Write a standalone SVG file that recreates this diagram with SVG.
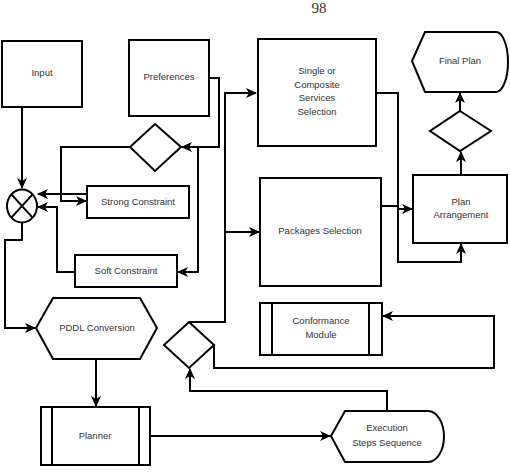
<svg xmlns="http://www.w3.org/2000/svg" width="510" height="473" viewBox="0 0 510 473">
<defs>
<marker id="arr" markerUnits="userSpaceOnUse" markerWidth="12" markerHeight="10" refX="10" refY="5" orient="auto">
<path d="M0,0 L11,5 L0,10 L3,5 Z" fill="#000"/>
</marker>
</defs>
<style>
.s{fill:#fff;stroke:#000;stroke-width:2}
.l{fill:none;stroke:#000;stroke-width:2}
.c{fill:none;stroke:#000;stroke-width:2;marker-end:url(#arr)}
.t{font-family:"Liberation Sans",Arial,sans-serif;font-size:9.5px;fill:#333;text-anchor:middle;dominant-baseline:middle}
</style>
<rect width="510" height="473" fill="#fff"/>
<text x="319" y="13" font-family="'Liberation Serif',serif" font-size="15" text-anchor="middle" fill="#333">98</text>
<g id="connectors">
<path class="c" d="M22,107 V188"/>
<path class="c" d="M209,78 H219 V147 H182"/>
<path class="c" d="M219,147 H198 V272 H178"/>
<path class="c" d="M130,147 H61 V201 H86"/>
<path class="c" d="M87,194 H38"/>
<path class="c" d="M75,272 H57 V207 H38"/>
<path class="c" d="M22,222 V240 H5 V328 H35"/>
<path class="c" d="M96,359 V406"/>
<path class="c" d="M150,436 H330"/>
<path class="c" d="M189,322 H225 V93 H256"/>
<path class="c" d="M225,232 H259"/>
<path class="c" d="M214,345 V368 H494 V316 H383"/>
<path class="c" d="M387,411 V391 H190 V369"/>
<path class="c" d="M376,93 H398 V262 H461 V244"/>
<path class="c" d="M381,206 H398 V209 H412"/>
<path class="c" d="M461,175 V152"/>
<path class="c" d="M460,111 V93"/>
</g>
<g id="input"><rect class="s" x="2" y="41" width="80" height="66"/><text class="t" x="42" y="73">Input</text></g>
<g id="preferences"><rect class="s" x="129" y="40" width="80" height="76"/><text class="t" x="169" y="77">Preferences</text></g>
<g id="diamond1"><path class="s" d="M155,124 L181,147 L155,171 L130,147 Z"/></g>
<g id="merge"><ellipse class="s" cx="22" cy="206" rx="15" ry="16.5"/><path class="l" d="M11.4,194.3 L32.6,217.7 M32.6,194.3 L11.4,217.7"/></g>
<g id="strong"><rect class="s" x="87" y="186" width="102" height="32"/><text class="t" x="138" y="202">Strong Constraint</text></g>
<g id="soft"><rect class="s" x="75" y="255" width="102" height="32"/><text class="t" x="126" y="271">Soft Constraint</text></g>
<g id="pddl"><path class="s" d="M36,328 L53,298 H140 L157,328 L140,359 H53 Z"/><text class="t" x="97" y="328">PDDL Conversion</text></g>
<g id="planner"><rect class="s" x="41" y="407" width="109" height="58"/><path class="l" d="M52,407 V465 M139,407 V465"/><text class="t" x="95" y="436">Planner</text></g>
<g id="diamond2"><path class="s" d="M189,322 L214,345 L189,368 L164,345 Z"/></g>
<g id="single"><rect class="s" x="258" y="39" width="118" height="107"/><text class="t" x="317" y="71">Single or</text><text class="t" x="317" y="85">Composite</text><text class="t" x="317" y="98">Services</text><text class="t" x="317" y="112">Selection</text></g>
<g id="packages"><rect class="s" x="260" y="178" width="121" height="108"/><text class="t" x="320" y="231">Packages Selection</text></g>
<g id="conformance"><rect class="s" x="260" y="303" width="122" height="52"/><path class="l" d="M272,303 V355 M369,303 V355"/><text class="t" x="321" y="321">Conformance</text><text class="t" x="321" y="335">Module</text></g>
<g id="execution"><path class="s" d="M331,436 L345,411 H428 A16,25.5 0 0 1 428,462 H345 Z"/><text class="t" x="387" y="428">Execution</text><text class="t" x="387" y="443">Steps Sequence</text></g>
<g id="plan-arrangement"><rect class="s" x="413" y="175" width="94" height="68"/><text class="t" x="461" y="202">Plan</text><text class="t" x="461" y="215">Arrangement</text></g>
<g id="diamond3"><path class="s" d="M460,111 L491,131 L460,151 L430,131 Z"/></g>
<g id="final-plan"><path class="s" d="M412,61 L425,32 H496 A12,30 0 0 1 496,92 H425 Z"/><text class="t" x="460" y="61">Final Plan</text></g>
</svg>
